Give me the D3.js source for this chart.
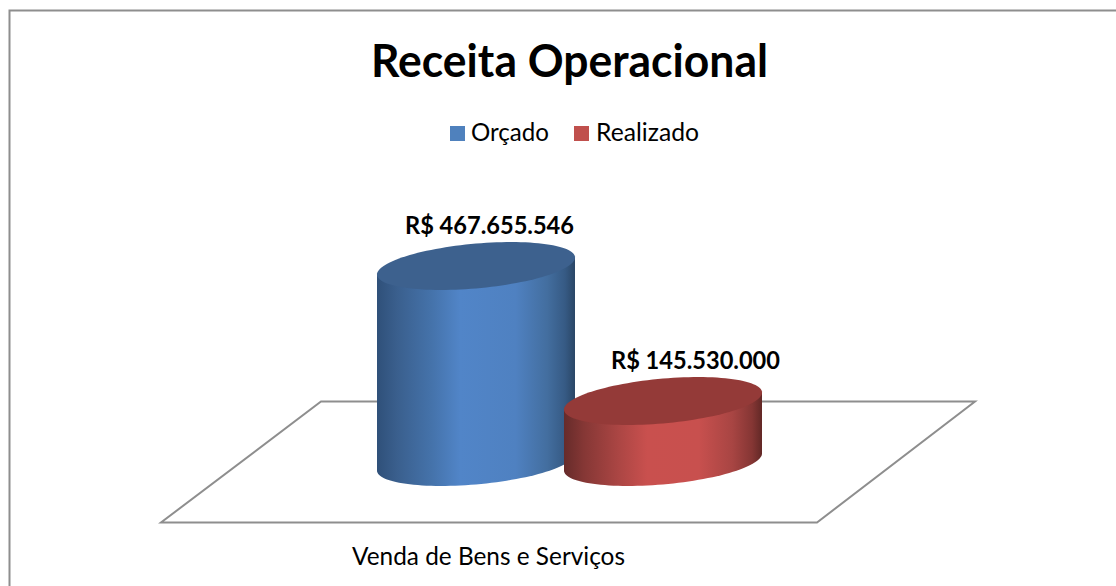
<!DOCTYPE html>
<html><head><meta charset="utf-8">
<script src="https://cdn.jsdelivr.net/npm/d3@7/dist/d3.min.js"></script>
<style>html,body{margin:0;padding:0;background:#fff;overflow:hidden}svg{display:block}text{font-family:Lato,"Open Sans",sans-serif;fill:#000}</style>
</head><body><svg id="c" width="1116" height="586"></svg>
<script>
const titleText = "Receita Operacional";
const categories = ["Venda de Bens e Serviços"];
const seriesNames = ["Orçado", "Realizado"];
const seriesValues = [467655546, 145530000];
const valueLabels = ["R$ 467.655.546", "R$ 145.530.000"];
const seriesColors = ["#4f81bd", "#c0504d"];

const svg = d3.select("#c");
const defs = svg.append("defs");
const x = d3.scalePoint().domain(seriesNames).range([476, 663]);
const y = d3.scaleLinear().domain([0, seriesValues[0]]).range([462, 266]);
const rx = 99, skew = -8.5, ry = 22.4;
const labelShift = [13.5, 32.5];

// chart border (top and left only are visible)
svg.append("path").attr("d", "M9.5,586V10.5H1116").attr("fill", "none").attr("stroke", "#8e8e8e").attr("stroke-width", 2);

// floor
svg.append("path").attr("d", "M321,401.5H975L817,522.5H161Z").attr("fill", "#fff").attr("stroke", "#8e8e8e").attr("stroke-width", 2);

const grads = [
  {side:[["0%","#2f5079"],["10%","#3a5f8d"],["28%","#4573ab"],["42%","#5185c8"],["70%","#4f81c1"],["86%","#436e9f"],["95%","#365a84"],["100%","#2a4666"]], top:"#3d618e"},
  {side:[["0%","#662b2a"],["10%","#853735"],["28%","#ac4644"],["42%","#c9504e"],["68%","#c8504e"],["85%","#a84543"],["95%","#853634"],["100%","#622826"]], top:"#943a38"}
];
grads.forEach((g,i)=>{
  const lg = defs.append("linearGradient").attr("id","g"+i).attr("x1",0).attr("x2",1).attr("y1",0).attr("y2",0);
  g.side.forEach(s=>lg.append("stop").attr("offset",s[0]).attr("stop-color",s[1]));
});
const pt = (cx,cy,t)=>[cx+rx*Math.cos(t), cy+skew*Math.cos(t)+ry*Math.sin(t)];
const line = d3.line();
const angles = d3.range(0, 181, 3).map(d=>d*Math.PI/180);

seriesNames.forEach((name,i)=>{
  const cx = x(name), top = y(seriesValues[i]), base = y(0);
  // body runs up under the cap, so no seam shows along the cap's front edge
  const bodyPts = angles.map(t=>pt(cx,base,t)).concat([pt(cx,top,Math.PI), pt(cx,top,0)]);
  svg.append("path").attr("d", line(bodyPts)+"Z").attr("fill", `url(#g${i})`);
  const topPts = d3.range(0,360,3).map(d=>pt(cx,top,d*Math.PI/180));
  svg.append("path").attr("d", line(topPts)+"Z").attr("fill", grads[i].top);
  svg.append("text").attr("x", cx+labelShift[i]).attr("y", top-32.5).attr("text-anchor","middle")
    .attr("font-size",25).attr("font-weight",700).attr("textLength",169).attr("lengthAdjust","spacingAndGlyphs").text(valueLabels[i]);
});

// title
svg.append("text").attr("x",569.5).attr("y",77).attr("text-anchor","middle").attr("font-size",46).attr("font-weight",700)
  .attr("textLength",397).attr("lengthAdjust","spacingAndGlyphs").text(titleText);

// legend
const legendX = d3.scaleOrdinal().domain(seriesNames).range([450, 574]);
const legendW = [78, 103];
seriesNames.forEach((name,i)=>{
  svg.append("rect").attr("x",legendX(name)).attr("y",126).attr("width",15).attr("height",15).attr("fill",seriesColors[i]);
  svg.append("text").attr("x",legendX(name)+(i?22:21)).attr("y",141).attr("font-size",25)
    .attr("textLength",legendW[i]).attr("lengthAdjust","spacingAndGlyphs").text(name);
});

// category label
svg.append("text").attr("x",488.5).attr("y",565).attr("text-anchor","middle").attr("font-size",25)
  .attr("textLength",273).attr("lengthAdjust","spacingAndGlyphs").text(categories[0]);
</script></body></html>
